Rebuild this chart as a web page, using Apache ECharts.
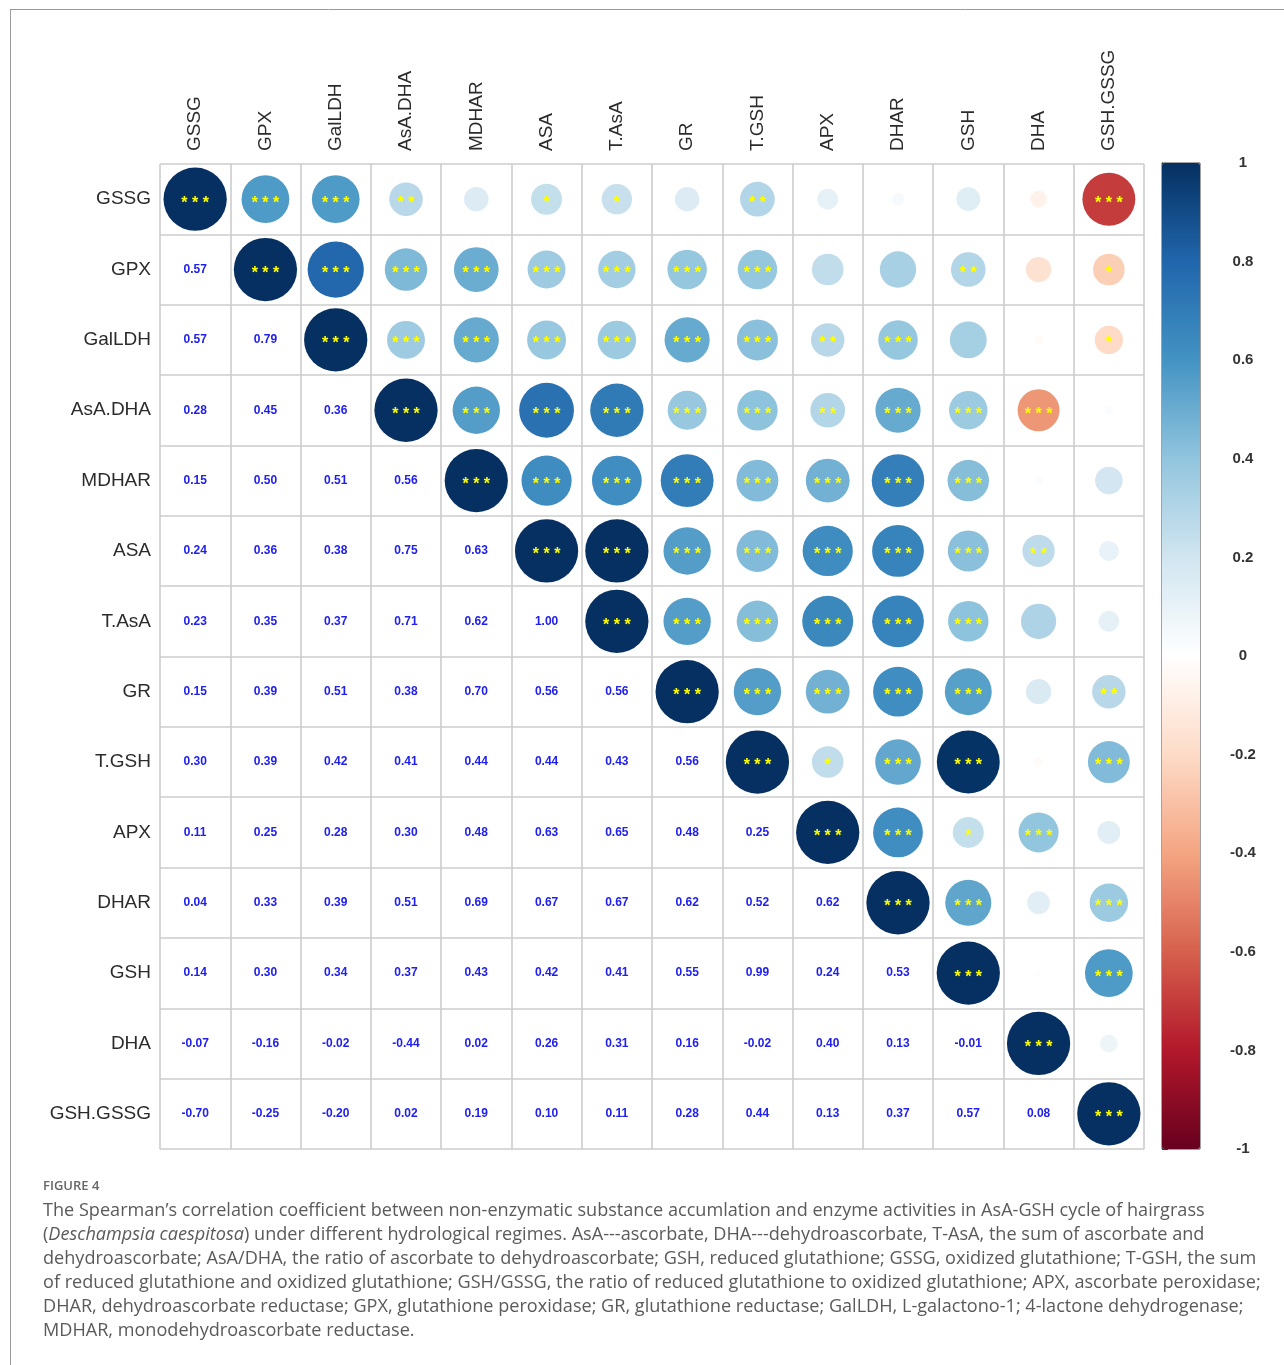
<!DOCTYPE html>
<html>
<head>
<meta charset="utf-8">
<script src="https://cdn.jsdelivr.net/npm/echarts@6/dist/echarts.min.js"></script>
<style>
  html, body { margin: 0; padding: 0; background: #ffffff; }
  #chart { width: 1284px; height: 1365px; }
</style>
</head>
<body>
<div id="chart"></div>
<script>
// Variables of the AsA-GSH cycle, in matrix order
const variables = ['GSSG', 'GPX', 'GalLDH', 'AsA.DHA', 'MDHAR', 'ASA', 'T.AsA', 'GR',
                   'T.GSH', 'APX', 'DHAR', 'GSH', 'DHA', 'GSH.GSSG'];

// Spearman coefficients, lower triangle: row i holds correlations with variables 0..i-1
const rho = [
  [],
  [0.57],
  [0.57, 0.79],
  [0.28, 0.45, 0.36],
  [0.15, 0.50, 0.51, 0.56],
  [0.24, 0.36, 0.38, 0.75, 0.63],
  [0.23, 0.35, 0.37, 0.71, 0.62, 1.00],
  [0.15, 0.39, 0.51, 0.38, 0.70, 0.56, 0.56],
  [0.30, 0.39, 0.42, 0.41, 0.44, 0.44, 0.43, 0.56],
  [0.11, 0.25, 0.28, 0.30, 0.48, 0.63, 0.65, 0.48, 0.25],
  [0.04, 0.33, 0.39, 0.51, 0.69, 0.67, 0.67, 0.62, 0.52, 0.62],
  [0.14, 0.30, 0.34, 0.37, 0.43, 0.42, 0.41, 0.55, 0.99, 0.24, 0.53],
  [-0.07, -0.16, -0.02, -0.44, 0.02, 0.26, 0.31, 0.16, -0.02, 0.40, 0.13, -0.01],
  [-0.70, -0.25, -0.20, 0.02, 0.19, 0.10, 0.11, 0.28, 0.44, 0.13, 0.37, 0.57, 0.08]
];

// Significance stars, upper triangle: row i holds variables i..13 (diagonal first)
const stars = [
  [3, 3, 3, 2, 0, 1, 1, 0, 2, 0, 0, 0, 0, 3],
  [3, 3, 3, 3, 3, 3, 3, 3, 0, 0, 2, 0, 1],
  [3, 3, 3, 3, 3, 3, 3, 2, 3, 0, 0, 1],
  [3, 3, 3, 3, 3, 3, 2, 3, 3, 3, 0],
  [3, 3, 3, 3, 3, 3, 3, 3, 0, 0],
  [3, 3, 3, 3, 3, 3, 3, 2, 0],
  [3, 3, 3, 3, 3, 3, 0, 0],
  [3, 3, 3, 3, 3, 0, 2],
  [3, 1, 3, 3, 0, 3],
  [3, 3, 1, 3, 0],
  [3, 3, 0, 3],
  [3, 0, 3],
  [3, 0],
  [3]
];

// RdBu diverging palette, from -1 to 1
const paletteRdBu = ['#67001F', '#B2182B', '#D6604D', '#F4A582', '#FDDBC7', '#FFFFFF',
                     '#D1E5F0', '#92C5DE', '#4393C3', '#2166AC', '#053061'];

const captionHead = 'FIGURE 4';
const captionLines = [
  "The Spearman\u2019s correlation coefficient between non-enzymatic substance accumlation and enzyme activities in AsA-GSH cycle of hairgrass",
  "({i|Deschampsia caespitosa}) under different hydrological regimes. AsA---ascorbate, DHA---dehydroascorbate, T-AsA, the sum of ascorbate and",
  "dehydroascorbate; AsA/DHA, the ratio of ascorbate to dehydroascorbate; GSH, reduced glutathione; GSSG, oxidized glutathione; T-GSH, the sum",
  "of reduced glutathione and oxidized glutathione; GSH/GSSG, the ratio of reduced glutathione to oxidized glutathione; APX, ascorbate peroxidase;",
  "DHAR, dehydroascorbate reductase; GPX, glutathione peroxidase; GR, glutathione reductase; GalLDH, L-galactono-1; 4-lactone dehydrogenase;",
  "MDHAR, monodehydroascorbate reductase."
];

// Build the upper-triangle circles and lower-triangle numbers
const n = variables.length;
const circleData = [];
const numberData = [];
for (let i = 0; i < n; i++) {
  for (let j = 0; j < n; j++) {
    if (j < i) {
      numberData.push([j, i, rho[i][j]]);
    } else {
      const r = i === j ? 1 : rho[j][i];
      circleData.push([j, i, r, stars[i][j - i]]);
    }
  }
}

const sansFamily = 'Liberation Sans';

// Caption font size so that the first line spans the caption width
const captionFamily = 'Open Sans';
function fitFontSize(text, family, targetWidth) {
  const ctx = document.createElement('canvas').getContext('2d');
  ctx.font = '100px "' + family + '"';
  return 100 * targetWidth / ctx.measureText(text).width;
}
const captionSize = Math.round(fitFontSize(captionLines[0], captionFamily, 1165) * 10) / 10;

const gridBox = { left: 160, top: 164, width: 984, height: 985 };
const cell = gridBox.width / n;
const maxDiameter = cell * 0.9;

const starText = ['', '*', '* *', '* * *'];

const graphics = [
  { type: 'line', shape: { x1: 10, y1: 9.5, x2: 1284, y2: 9.5 }, style: { stroke: '#9a9a9a', lineWidth: 1 } },
  { type: 'line', shape: { x1: 10.5, y1: 9, x2: 10.5, y2: 1365 }, style: { stroke: '#9a9a9a', lineWidth: 1 } },
  {
    type: 'text', left: 43, top: 1180,
    style: { text: captionHead, fontFamily: captionFamily, fontWeight: 600, fontSize: 13, fill: '#666666' }
  }
];
captionLines.forEach((line, k) => {
  graphics.push({
    type: 'text', x: 43, y: 1211 + k * 24,
    style: {
      text: line,
      fontFamily: captionFamily, fontSize: captionSize, fill: '#5a5a5a',
      verticalAlign: 'middle', align: 'left',
      rich: { i: { fontFamily: captionFamily, fontSize: captionSize, fontStyle: 'italic', fill: '#5a5a5a' } }
    }
  });
});

const chart = echarts.init(document.getElementById('chart'), null, { renderer: 'canvas' });
chart.setOption({
  backgroundColor: '#ffffff',
  animation: false,
  grid: [
    Object.assign({}, gridBox),
    { left: 1162, top: 163, width: 38, height: 986, show: true, borderColor: '#444444', borderWidth: 1, backgroundColor: 'transparent' }
  ],
  xAxis: [
    {
      gridIndex: 0, type: 'category', data: variables, position: 'top',
      boundaryGap: true,
      axisLine: { show: false }, axisTick: { show: false },
      axisLabel: { interval: 0, rotate: -90, margin: 13, fontSize: 19, fontFamily: sansFamily, color: '#2b2b2b' },
      splitLine: { show: true, interval: 0, lineStyle: { color: '#cccccc', width: 1.6 } }
    },
    { gridIndex: 1, type: 'value', show: false, min: 0, max: 1 }
  ],
  yAxis: [
    {
      gridIndex: 0, type: 'category', data: variables, inverse: true,
      boundaryGap: true,
      axisLine: { show: false }, axisTick: { show: false },
      axisLabel: { interval: 0, margin: 9, fontSize: 19, fontFamily: sansFamily, color: '#2b2b2b' },
      splitLine: { show: true, interval: 0, lineStyle: { color: '#cccccc', width: 1.6 } }
    },
    {
      gridIndex: 1, type: 'value', min: -1, max: 1, interval: 0.2, position: 'right',
      axisLine: { show: true, lineStyle: { color: '#333333', width: 1 } },
      axisTick: { show: true, length: 6, lineStyle: { color: '#333333' } },
      splitLine: { show: false },
      axisLabel: { margin: 43, align: 'center', fontSize: 15, fontWeight: 'bold', fontFamily: sansFamily, color: '#333333' }
    }
  ],
  visualMap: {
    type: 'continuous', min: -1, max: 1, dimension: 2, seriesIndex: 0,
    inRange: { color: paletteRdBu },
    orient: 'vertical', left: 1162, top: 163, itemWidth: 38, itemHeight: 986,
    padding: 0, text: null, showLabel: false, calculable: false, hoverLink: false
  },
  series: [
    {
      type: 'scatter', xAxisIndex: 0, yAxisIndex: 0, data: circleData,
      symbol: 'circle',
      symbolSize: v => Math.sqrt(Math.abs(v[2])) * maxDiameter,
      itemStyle: { opacity: 1 },
      label: {
        show: true, position: 'inside', color: '#ffff00',
        fontSize: 16, fontWeight: 'bold', fontFamily: sansFamily, offset: [0, 4],
        formatter: p => starText[p.data[3]]
      }
    },
    {
      type: 'scatter', xAxisIndex: 0, yAxisIndex: 0, data: numberData,
      symbol: 'circle', symbolSize: 1,
      itemStyle: { color: 'rgba(0,0,0,0)', opacity: 1 },
      label: {
        show: true, position: 'inside', color: '#2020ee',
        fontSize: 12, fontWeight: 'bold', fontFamily: sansFamily,
        formatter: p => p.data[2].toFixed(2)
      }
    }
  ],
  graphic: graphics
});
</script>
</body>
</html>
